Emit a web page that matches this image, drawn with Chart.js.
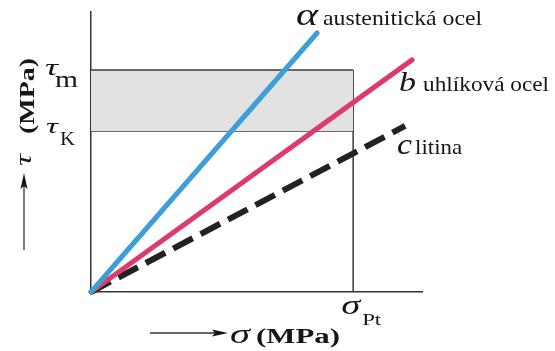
<!DOCTYPE html>
<html lang="cs">
<head>
<meta charset="UTF-8" />
<title>Smykové napětí – materiály</title>
<script src="https://cdn.jsdelivr.net/npm/chart.js"></script>
<style>
  html, body { margin: 0; padding: 0; background: #fff; }
  canvas { display: block; }
</style>
</head>
<body>
<canvas id="tauChart" width="555" height="351"></canvas>
<script>
  // materials and the end point of each straight line (origin is 0,0)
  const materials = ["austenitická ocel", "uhlíková ocel", "litina"];
  const letters = ["α", "b", "c"];
  const sigmaEnd = [68.3, 97.0, 94.9];
  const tauEnd = [92.5, 82.9, 59.3];
  const lineColors = ["#3d9fd6", "#dc3a70", "#222222"];

  // limit levels: τK, τm and σPt
  const tauLevels = [57.5, 79.3];
  const sigmaPt = 79.2;

  const serif = "'Liberation Serif', 'DejaVu Serif', serif";

  const materialSets = materials.map((name, i) => ({
    label: name,
    data: [{ x: 0, y: 0 }, { x: sigmaEnd[i], y: tauEnd[i] }],
    borderColor: lineColors[i],
    borderWidth: i === 2 ? 6 : 5,
    borderDash: i === 2 ? [22, 9] : [],
    borderCapStyle: i === 2 ? "butt" : "round",
    pointRadius: 0,
    showLine: true,
    fill: false,
    clip: false,
    order: 0,
  }));

  const edge = { borderColor: "#3a3a3a", borderWidth: 1.5, pointRadius: 0, showLine: true };
  const boxSets = [
    { ...edge, label: "tm", data: [{ x: 0, y: tauLevels[1] }, { x: sigmaPt, y: tauLevels[1] }],
      backgroundColor: "#e2e2e2", fill: "+1", order: 5 },
    { ...edge, label: "tk", data: [{ x: 0, y: tauLevels[0] }, { x: sigmaPt, y: tauLevels[0] }],
      fill: false, order: 6 },
    { ...edge, label: "pt", data: [{ x: sigmaPt, y: tauLevels[1] }, { x: sigmaPt, y: 0 }],
      fill: false, order: 7 },
  ];

  // text squeezed or stretched to a given width
  function fitText(ctx, str, x, y, font, width) {
    ctx.save();
    ctx.font = font;
    const w = ctx.measureText(str).width;
    ctx.translate(x, y);
    ctx.scale(width / w, 1);
    ctx.fillText(str, 0, 0);
    ctx.restore();
  }

  function arrow(ctx, x1, y1, x2, y2) {
    const a = Math.atan2(y2 - y1, x2 - x1);
    ctx.save();
    ctx.translate(x2, y2);
    ctx.rotate(a);
    ctx.beginPath();
    ctx.moveTo(-Math.hypot(x2 - x1, y2 - y1), 0);
    ctx.lineTo(-12, 0);
    ctx.stroke();
    ctx.beginPath();
    ctx.moveTo(0, 0);
    ctx.lineTo(-16, -3.5);
    ctx.lineTo(-13, 0);
    ctx.lineTo(-16, 3.5);
    ctx.closePath();
    ctx.fill();
    ctx.restore();
  }

  const textPlugin = {
    id: "texts",
    afterDraw(chart) {
      const ctx = chart.ctx;
      const xs = chart.scales.x, ys = chart.scales.y;
      ctx.save();
      ctx.fillStyle = "#161616";
      ctx.strokeStyle = "#333";
      ctx.lineWidth = 1.3;
      ctx.textBaseline = "alphabetic";

      // line labels next to the line ends
      const pos = [[-21, -8, 22, 27, 159], [-13, 31, 17, 24, 126], [-8, 28, 15, 18, 47]];
      const letterFont = ["italic 31px ", "italic 27px ", "italic 30px "];
      materials.forEach((name, i) => {
        const px = xs.getPixelForValue(sigmaEnd[i]) + pos[i][0];
        const py = ys.getPixelForValue(tauEnd[i]) + pos[i][1];
        fitText(ctx, letters[i], px, py, letterFont[i] + serif, pos[i][2]);
        fitText(ctx, name, px + pos[i][3], py, "21px " + serif, pos[i][4]);
      });

      // τ levels on the left
      const yK = ys.getPixelForValue(tauLevels[0]);
      const yM = ys.getPixelForValue(tauLevels[1]);
      fitText(ctx, "τ", 45, yM + 5, "italic 23px " + serif, 13);
      fitText(ctx, "m", 55, yM + 17, "24px " + serif, 23);
      fitText(ctx, "τ", 46, yK + 2, "italic 21px " + serif, 12);
      fitText(ctx, "K", 60, yK + 14, "19px " + serif, 15);

      // σPt under the right edge of the box
      const sx = xs.getPixelForValue(sigmaPt);
      fitText(ctx, "σ", sx - 12, 314, "italic 28px " + serif, 19);
      fitText(ctx, "Pt", sx + 9, 325, "16px " + serif, 19);

      // x axis title
      arrow(ctx, 150, 333, 228, 333);
      fitText(ctx, "σ", 230, 343, "italic 28px " + serif, 20);
      fitText(ctx, "(MPa)", 256, 343, "bold 20px " + serif, 84);

      // y axis title
      arrow(ctx, 24, 250, 24, 173);
      ctx.save();
      ctx.rotate(-Math.PI / 2);
      fitText(ctx, "τ", -166, 31, "italic 23px " + serif, 12);
      fitText(ctx, "(MPa)", -134, 34, "bold 22px " + serif, 76);
      ctx.restore();

      ctx.restore();
    },
  };

  new Chart(document.getElementById("tauChart"), {
    type: "scatter",
    data: { datasets: [...materialSets, ...boxSets] },
    options: {
      responsive: false,
      animation: false,
      layout: { padding: { left: 91, right: 133, top: 12, bottom: 59 } },
      plugins: { legend: { display: false }, tooltip: { enabled: false } },
      scales: {
        x: {
          type: "linear", min: 0, max: 100,
          grid: { display: false, drawTicks: false },
          border: { display: true, color: "#333", width: 1.5 },
          ticks: { display: false },
        },
        y: {
          type: "linear", min: 0, max: 100,
          grid: { display: false, drawTicks: false },
          border: { display: true, color: "#333", width: 1.5 },
          ticks: { display: false },
        },
      },
    },
    plugins: [textPlugin],
  });
</script>
</body>
</html>
